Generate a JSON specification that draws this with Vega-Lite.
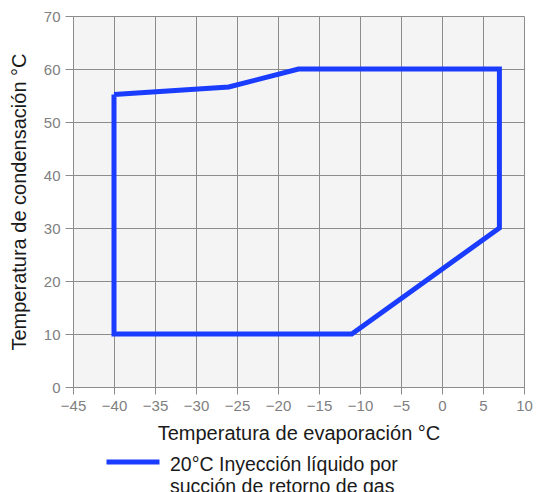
{
  "$schema": "https://vega.github.io/schema/vega-lite/v6.json",
  "autosize": "none",
  "width": 451,
  "height": 371,
  "padding": {"left": 73, "top": 16, "right": 12, "bottom": 105},
  "background": "white",
  "config": {
    "font": "Liberation Sans",
    "view": {"fill": "#f4f4f4", "stroke": null}
  },
  "data": {
    "values": [
      {"o": 1, "x": -40, "y": 55.2, "s": "20°C Inyección líquido por succión de retorno de gas"},
      {"o": 2, "x": -26, "y": 56.6, "s": "20°C Inyección líquido por succión de retorno de gas"},
      {"o": 3, "x": -17.5, "y": 60, "s": "20°C Inyección líquido por succión de retorno de gas"},
      {"o": 4, "x": 7, "y": 60, "s": "20°C Inyección líquido por succión de retorno de gas"},
      {"o": 5, "x": 7, "y": 30, "s": "20°C Inyección líquido por succión de retorno de gas"},
      {"o": 6, "x": -11, "y": 10, "s": "20°C Inyección líquido por succión de retorno de gas"},
      {"o": 7, "x": -40, "y": 10, "s": "20°C Inyección líquido por succión de retorno de gas"},
      {"o": 8, "x": -40, "y": 55.2, "s": "20°C Inyección líquido por succión de retorno de gas"}
    ]
  },
  "mark": {"type": "line", "strokeWidth": 5, "strokeJoin": "miter", "strokeCap": "butt"},
  "encoding": {
    "order": {"field": "o", "type": "quantitative"},
    "x": {
      "field": "x", "type": "quantitative",
      "scale": {"domain": [-45, 10], "nice": false, "zero": false},
      "axis": {
        "values": [-45, -40, -35, -30, -25, -20, -15, -10, -5, 0, 5, 10],
        "title": "Temperatura de evaporación °C",
        "titleFontSize": 20, "titleFontWeight": "normal", "titleColor": "#1a1a1a",
        "titlePadding": 10,
        "labelFontSize": 15, "labelColor": "#808080", "labelPadding": 4,
        "gridColor": "#8c8c8c", "gridOpacity": 1, "gridWidth": 1,
        "domainColor": "#8c8c8c", "tickColor": "#8c8c8c", "tickSize": 7,
        "labelFlush": false
      }
    },
    "y": {
      "field": "y", "type": "quantitative",
      "scale": {"domain": [0, 70], "nice": false},
      "axis": {
        "values": [0, 10, 20, 30, 40, 50, 60, 70],
        "title": "Temperatura de condensación °C",
        "titleFontSize": 20, "titleFontWeight": "normal", "titleColor": "#1a1a1a",
        "titlePadding": 14,
        "labelFontSize": 15, "labelColor": "#808080", "labelPadding": 5,
        "gridColor": "#8c8c8c", "gridOpacity": 1, "gridWidth": 1,
        "domainColor": "#8c8c8c", "tickColor": "#8c8c8c", "tickSize": 8,
        "labelFlush": false
      }
    },
    "color": {
      "field": "s", "type": "nominal",
      "scale": {"range": ["#1a3cff"]},
      "legend": {
        "orient": "none",
        "legendX": 31,
        "legendY": 411,
        "title": null,
        "symbolType": "M-1,0.23H1",
        "symbolSize": 2809,
        "symbolStrokeWidth": 5,
        "symbolFillColor": "transparent",
        "labelFontSize": 19.5,
        "labelColor": "#1a1a1a",
        "labelLimit": 450,
        "labelOffset": 8,
        "labelBaseline": "top",
        "labelExpr": "['20°C Inyección líquido por', 'succión de retorno de gas']"
      }
    }
  }
}
